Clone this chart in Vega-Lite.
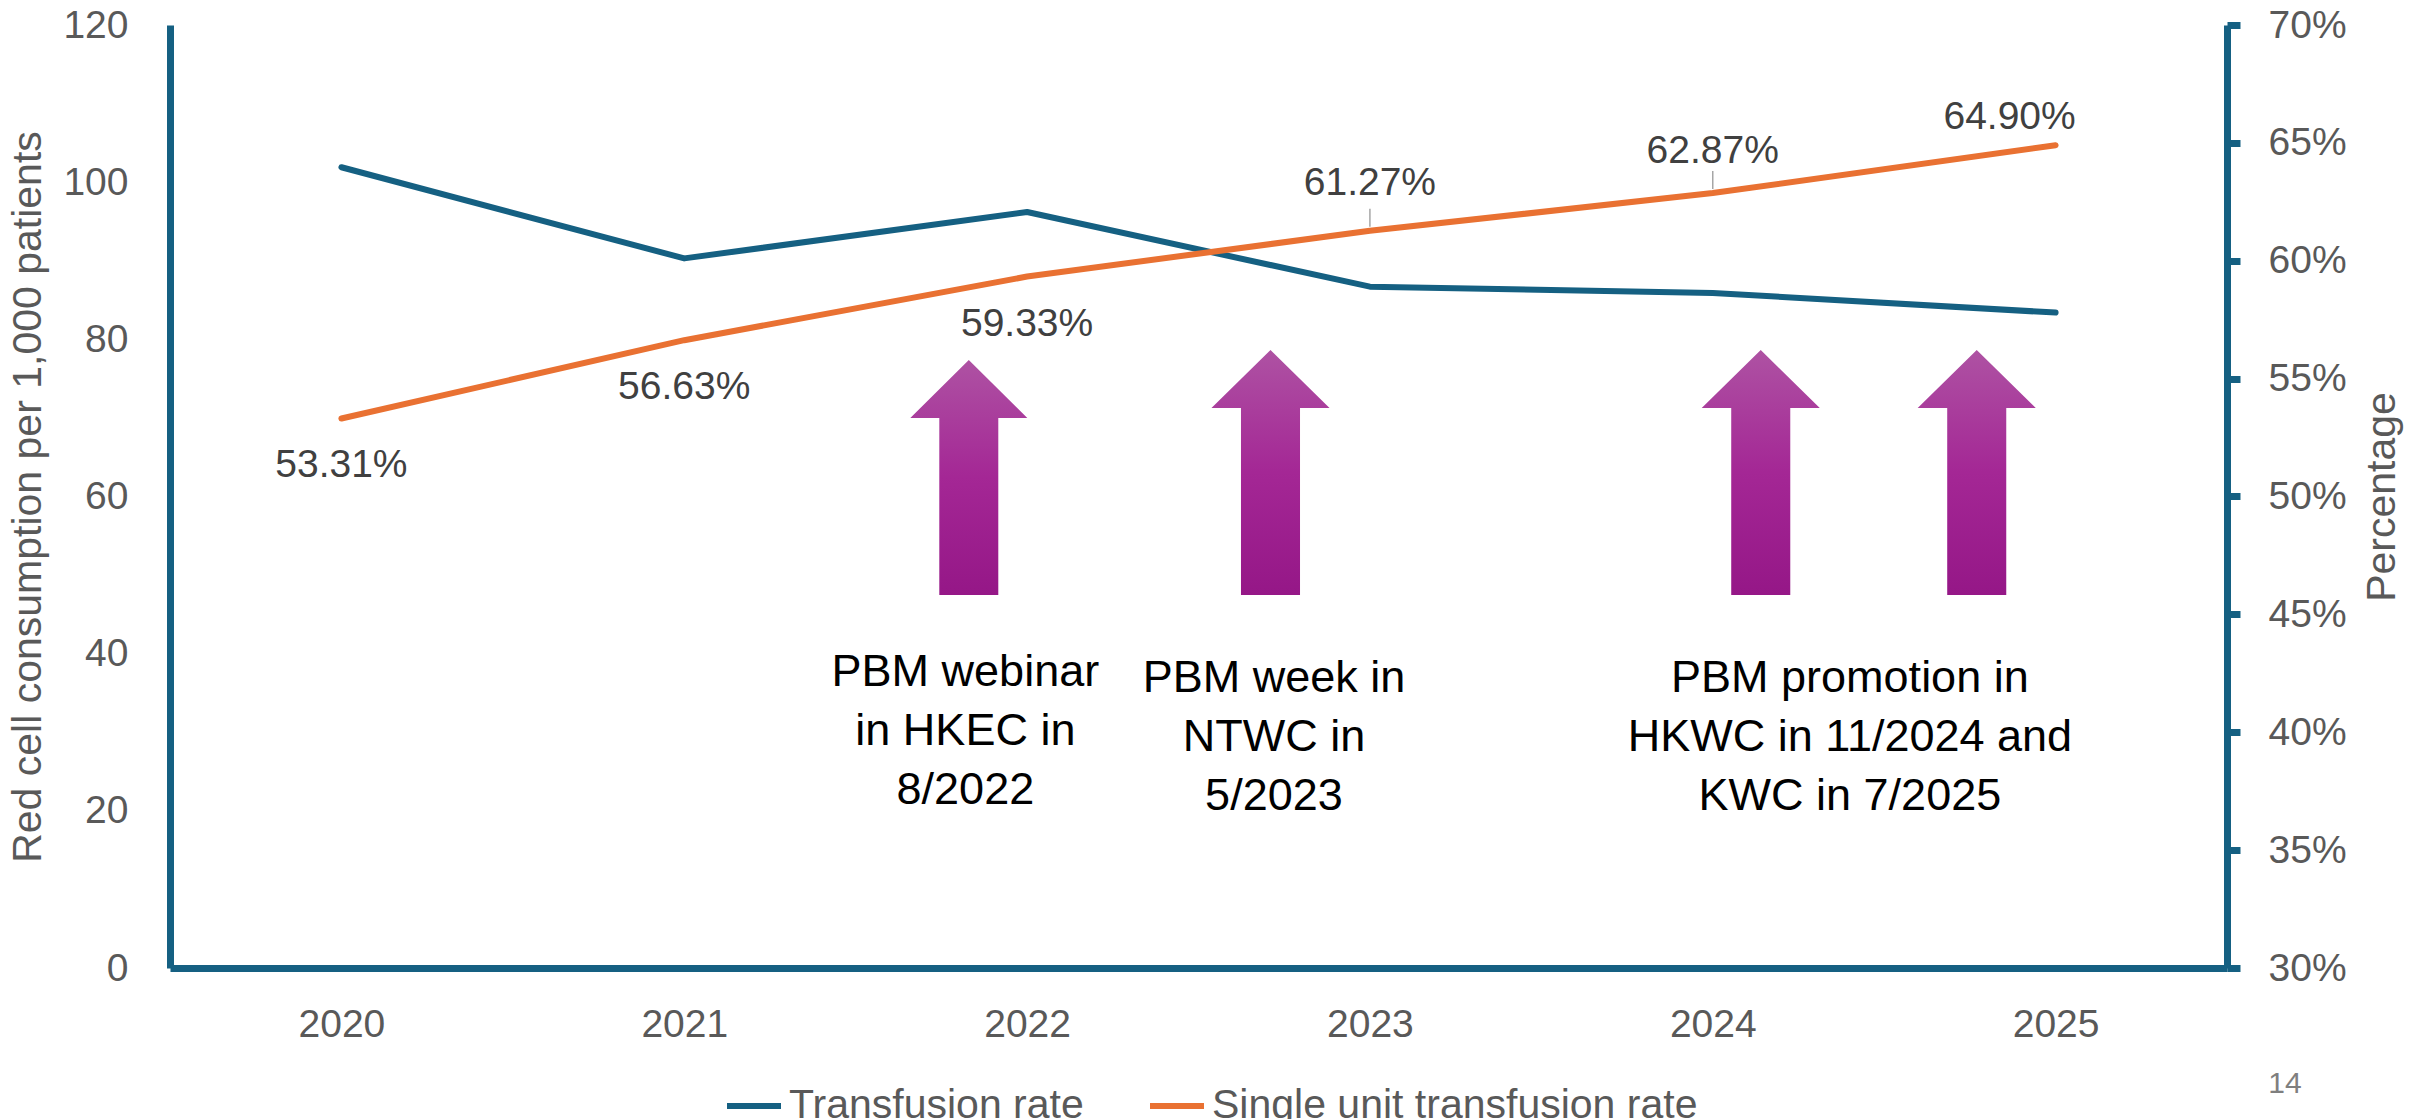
{
  "$schema": "https://vega.github.io/schema/vega-lite/v6.json",
  "width": 2057,
  "height": 943,
  "autosize": {"type": "none"},
  "padding": {"left": 170, "top": 25, "right": 201, "bottom": 151},
  "background": "#ffffff",
  "config": {
    "view": {"stroke": null},
    "font": "Liberation Sans",
    "axis": {
      "grid": false,
      "labelFont": "Liberation Sans",
      "labelColor": "#595959",
      "labelFontSize": 39,
      "titleFont": "Liberation Sans",
      "titleColor": "#595959",
      "titleFontSize": 41,
      "titleFontWeight": "normal",
      "domainColor": "#156082",
      "domainWidth": 7,
      "tickColor": "#156082"
    }
  },
  "datasets": {
    "series": [
      {"year": 2020, "rate": 101.9, "pct": 0.5331},
      {"year": 2021, "rate": 90.3, "pct": 0.5663},
      {"year": 2022, "rate": 96.2, "pct": 0.5933},
      {"year": 2023, "rate": 86.7, "pct": 0.6127},
      {"year": 2024, "rate": 85.9, "pct": 0.6287},
      {"year": 2025, "rate": 83.4, "pct": 0.649}
    ],
    "arrows": [
      {"x": 2021.83, "y": 62.42, "kind": "short"},
      {"x": 2022.71, "y": 63.05, "kind": "tall"},
      {"x": 2024.14, "y": 63.05, "kind": "tall"},
      {"x": 2024.77, "y": 63.05, "kind": "tall"}
    ],
    "notes": [
      {"x": 2021.82, "y": 40.5, "lines": ["PBM webinar", "in HKEC in", "8/2022"]},
      {"x": 2022.72, "y": 39.7, "lines": ["PBM week in", "NTWC in", "5/2023"]},
      {"x": 2024.40, "y": 39.7, "lines": ["PBM promotion in", "HKWC in 11/2024 and", "KWC in 7/2025"]}
    ],
    "page": [{"x": 2025.669, "y": -14.76, "label": "14"}]
  },
  "layer": [
    {
      "layer": [
        {
          "data": {"name": "series"},
          "mark": {"type": "line", "strokeWidth": 6, "strokeCap": "round", "strokeJoin": "round"},
          "encoding": {
            "x": {"field": "year", "type": "quantitative", "scale": {"domain": [2019.5, 2025.5]},
              "axis": {"orient": "bottom", "values": [2020, 2021, 2022, 2023, 2024, 2025], "format": "d", "ticks": false, "labelPadding": 37, "labelFlush": false, "title": null}},
            "y": {"field": "rate", "type": "quantitative", "scale": {"domain": [0, 120]},
              "axis": {"orient": "left", "values": [0, 20, 40, 60, 80, 100, 120], "ticks": false, "labelPadding": 42, "title": "Red cell consumption per 1,000 patients", "titlePadding": 13}},
            "color": {"datum": "Transfusion rate", "type": "nominal",
              "scale": {"domain": ["Transfusion rate", "Single unit transfusion rate"], "range": ["#156082", "#E97132"]},
              "legend": {"orient": "none", "legendX": 554, "legendY": 1051, "direction": "horizontal", "title": null, "symbolType": "stroke", "symbolStrokeWidth": 6, "symbolSize": 2916, "labelFontSize": 41, "labelColor": "#595959", "labelFont": "Liberation Sans", "labelLimit": 1000, "labelOffset": 5, "columnPadding": 54, "padding": 0}}
          }
        },
        {
          "data": {"name": "arrows"},
          "transform": [{"filter": "datum.kind === 'short'"}],
          "mark": {"type": "point", "shape": "M0,-1 L0.498,-0.506 L0.251,-0.506 L0.251,1 L-0.251,1 L-0.251,-0.506 L-0.498,-0.506 Z", "size": 55225, "filled": true, "opacity": 1, "strokeWidth": 0,
            "fill": {"gradient": "linear", "x1": 0, "y1": 0, "x2": 0, "y2": 1, "stops": [{"offset": 0, "color": "#AE52A3"}, {"offset": 0.5, "color": "#A42795"}, {"offset": 1, "color": "#951787"}]}},
          "encoding": {
            "x": {"field": "x", "type": "quantitative"},
            "y": {"field": "y", "type": "quantitative"}
          }
        },
        {
          "data": {"name": "arrows"},
          "transform": [{"filter": "datum.kind === 'tall'"}],
          "mark": {"type": "point", "shape": "M0,-1 L0.482,-0.527 L0.241,-0.527 L0.241,1 L-0.241,1 L-0.241,-0.527 L-0.482,-0.527 Z", "size": 60025, "filled": true, "opacity": 1, "strokeWidth": 0,
            "fill": {"gradient": "linear", "x1": 0, "y1": 0, "x2": 0, "y2": 1, "stops": [{"offset": 0, "color": "#AE52A3"}, {"offset": 0.5, "color": "#A42795"}, {"offset": 1, "color": "#951787"}]}},
          "encoding": {
            "x": {"field": "x", "type": "quantitative"},
            "y": {"field": "y", "type": "quantitative"}
          }
        },
        {
          "data": {"name": "notes"},
          "mark": {"type": "text", "align": "center", "baseline": "top", "lineHeight": 59, "fontSize": 45, "font": "Liberation Sans", "color": "#000000"},
          "encoding": {
            "x": {"field": "x", "type": "quantitative"},
            "y": {"field": "y", "type": "quantitative"},
            "text": {"field": "lines"}
          }
        },
        {
          "data": {"name": "page"},
          "mark": {"type": "text", "align": "center", "baseline": "middle", "fontSize": 30, "font": "Liberation Sans", "color": "#7F7F7F"},
          "encoding": {
            "x": {"field": "x", "type": "quantitative"},
            "y": {"field": "y", "type": "quantitative"},
            "text": {"field": "label"}
          }
        }
      ]
    },
    {
      "layer": [
        {
          "data": {"name": "series"},
          "mark": {"type": "line", "strokeWidth": 6, "strokeCap": "round", "strokeJoin": "round"},
          "encoding": {
            "x": {"field": "year", "type": "quantitative"},
            "y": {"field": "pct", "type": "quantitative", "scale": {"domain": [0.3, 0.7]},
              "axis": {"orient": "right", "values": [0.3, 0.35, 0.4, 0.45, 0.5, 0.55, 0.6, 0.65, 0.7], "format": ".0%", "ticks": true, "tickSize": 13, "tickWidth": 7, "labelPadding": 28, "title": "Percentage", "titleAngle": 270, "titlePadding": 57}},
            "color": {"datum": "Single unit transfusion rate", "type": "nominal"}
          }
        },
        {
          "data": {"name": "series"},
          "transform": [{"filter": "datum.year <= 2022"}],
          "mark": {"type": "text", "align": "center", "baseline": "middle", "dy": 47, "fontSize": 39, "font": "Liberation Sans", "color": "#404040"},
          "encoding": {
            "x": {"field": "year", "type": "quantitative"},
            "y": {"field": "pct", "type": "quantitative"},
            "text": {"field": "pct", "format": ".2%"}
          }
        },
        {
          "data": {"name": "series"},
          "transform": [{"filter": "datum.year == 2023"}],
          "mark": {"type": "text", "align": "center", "baseline": "middle", "dy": -48, "fontSize": 39, "font": "Liberation Sans", "color": "#404040"},
          "encoding": {
            "x": {"field": "year", "type": "quantitative"},
            "y": {"field": "pct", "type": "quantitative"},
            "text": {"field": "pct", "format": ".2%"}
          }
        },
        {
          "data": {"name": "series"},
          "transform": [{"filter": "datum.year == 2024"}],
          "mark": {"type": "text", "align": "center", "baseline": "middle", "dy": -42, "fontSize": 39, "font": "Liberation Sans", "color": "#404040"},
          "encoding": {
            "x": {"field": "year", "type": "quantitative"},
            "y": {"field": "pct", "type": "quantitative"},
            "text": {"field": "pct", "format": ".2%"}
          }
        },
        {
          "data": {"name": "series"},
          "transform": [{"filter": "datum.year == 2025"}],
          "mark": {"type": "text", "align": "center", "baseline": "middle", "dx": -46, "dy": -28, "fontSize": 39, "font": "Liberation Sans", "color": "#404040"},
          "encoding": {
            "x": {"field": "year", "type": "quantitative"},
            "y": {"field": "pct", "type": "quantitative"},
            "text": {"field": "pct", "format": ".2%"}
          }
        },
        {
          "data": {"name": "series"},
          "transform": [{"filter": "datum.year == 2023 || datum.year == 2024"}],
          "mark": {"type": "rule", "color": "#A6A6A6", "strokeWidth": 1.5, "yOffset": -4, "y2Offset": -22},
          "encoding": {
            "x": {"field": "year", "type": "quantitative"},
            "y": {"field": "pct", "type": "quantitative"},
            "y2": {"field": "pct"}
          }
        }
      ]
    }
  ],
  "resolve": {"scale": {"y": "independent"}}
}
